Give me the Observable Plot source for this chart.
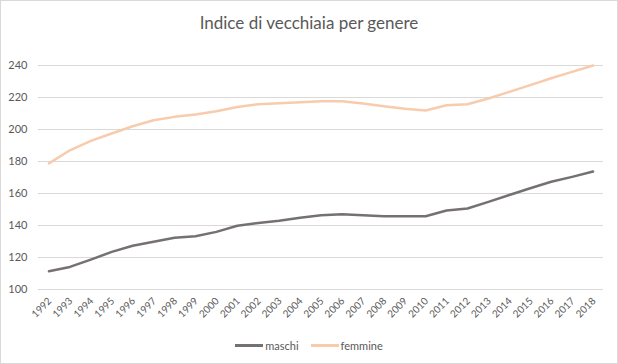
<!DOCTYPE html>
<html>
<head>
<meta charset="utf-8">
<script src="https://cdn.jsdelivr.net/npm/d3@7"></script>
<script src="https://cdn.jsdelivr.net/npm/@observablehq/plot@0.6"></script>
<style>
  html, body { margin: 0; padding: 0; background: #fff; }
  #wrap { width: 616px; height: 362px; border: 1px solid #d9d9d9; position: relative; font-family: Lato, "Open Sans", sans-serif; color: #595959; overflow: hidden; }
  #title { height: 40px; line-height: 44px; text-align: center; font-size: 17px; color: #595959; }
  #legend { position: absolute; left: 0; right: 0; top: 334px; height: 20px; display: flex; justify-content: center; align-items: center; font-size: 11px; color: #595959; }
  .item { display: flex; align-items: center; margin: 0 6px; }
  .sw { width: 28px; height: 3px; margin-right: 2px; }
</style>
</head>
<body>
<div id="wrap">
  <div id="title">Indice di vecchiaia per genere</div>
  <div id="chart"></div>
  <div id="legend"></div>
</div>
<script>
const years = [1992,1993,1994,1995,1996,1997,1998,1999,2000,2001,2002,2003,2004,2005,2006,2007,2008,2009,2010,2011,2012,2013,2014,2015,2016,2017,2018];
const maschi = [111.4,114.1,118.7,123.5,127.3,129.8,132.3,133.3,136.0,139.8,141.6,142.9,144.8,146.4,147.0,146.4,145.8,145.8,145.8,149.4,150.6,154.8,159.1,163.3,167.3,170.4,173.7];
const femmine = [178.8,187.0,192.9,197.5,202.0,205.8,207.9,209.4,211.4,214.1,215.8,216.4,217.1,217.7,217.7,216.2,214.6,212.9,211.9,215.2,215.8,219.4,223.5,227.7,232.0,236.0,240.0];
const seriesNames = ["maschi", "femmine"];
const seriesColors = ["#767171", "#f8cbad"];
const yTicks = [100,120,140,160,180,200,220,240];

const data = [];
years.forEach((y, i) => {
  data.push({year: String(y), value: maschi[i], serie: "maschi"});
  data.push({year: String(y), value: femmine[i], serie: "femmine"});
});

const chart = Plot.plot({
  width: 616,
  height: 289,
  marginLeft: 37,
  marginRight: 14,
  marginTop: 24,
  marginBottom: 41,
  style: {fontFamily: "Lato, 'Open Sans', sans-serif", fontSize: "11px", color: "#595959", background: "transparent"},
  x: {type: "point", domain: years.map(String), padding: 0.5, round: false, label: null},
  y: {domain: [100, 240], label: null},
  color: {domain: seriesNames, range: seriesColors},
  marks: [
    Plot.ruleY(yTicks, {stroke: "#d9d9d9", strokeWidth: 1}),
    Plot.axisY({ticks: yTicks, tickSize: 0, tickPadding: 11, label: null, fill: "#595959", fontSize: 11}),
    Plot.axisX({tickSize: 0, tickRotate: -45, tickPadding: 6, dx: 1, dy: 4, label: null, fill: "#595959", fontSize: 10}),
    Plot.line(data, {x: "year", y: "value", z: "serie", stroke: "serie", strokeWidth: 2.5, strokeLinecap: "round", strokeLinejoin: "round"})
  ]
});
document.getElementById("chart").appendChild(chart);

const legend = document.getElementById("legend");
seriesNames.forEach((n, i) => {
  const it = document.createElement("div");
  it.className = "item";
  const sw = document.createElement("div");
  sw.className = "sw";
  sw.style.background = seriesColors[i];
  const t = document.createElement("span");
  t.textContent = n;
  it.appendChild(sw); it.appendChild(t);
  legend.appendChild(it);
});
</script>
</body>
</html>
